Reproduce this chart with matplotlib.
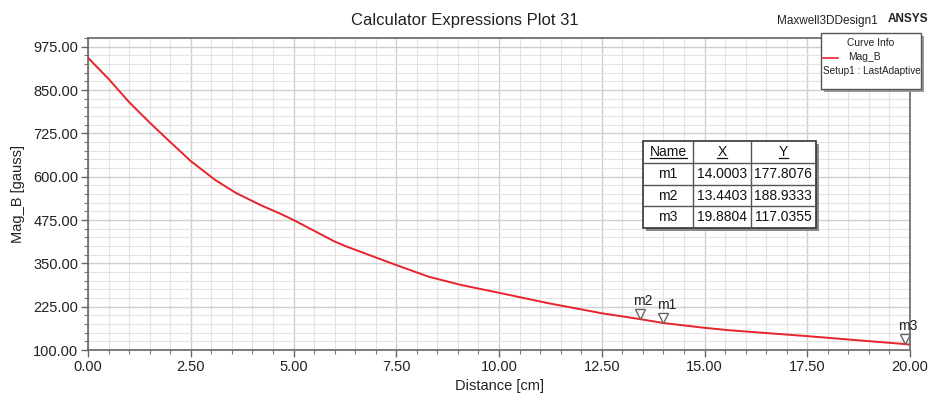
import numpy as np
import matplotlib
matplotlib.use("Agg")
import matplotlib.pyplot as plt
from matplotlib.patches import Rectangle
from matplotlib.lines import Line2D
from matplotlib.transforms import offset_copy

plt.rcParams['font.family'] = ['Liberation Sans', 'DejaVu Sans']

# ---- data ----
distance = [0.0, 0.5, 1.0, 1.5, 2.0, 2.5, 3.1, 3.6, 4.2, 4.7, 5.0, 6.0, 6.3, 7.5, 8.3,
            9.1, 10.0, 11.2, 12.5, 13.4403, 14.0003, 15.0, 15.6, 17.5, 19.8804, 20.0]
mag_b = [943, 882, 815, 756, 700, 645, 590, 553, 518, 492, 475, 413, 398, 345, 311,
         287, 265, 235, 206, 188.9333, 177.8076, 164, 157, 140, 117.0355, 115.5]

marker_names = ["m1", "m2", "m3"]
marker_x = [14.0003, 13.4403, 19.8804]
marker_y = [177.8076, 188.9333, 117.0355]

x_ticks = [0.0, 2.5, 5.0, 7.5, 10.0, 12.5, 15.0, 17.5, 20.0]
y_ticks = [100, 225, 350, 475, 600, 725, 850, 975]

W, H = 930, 398
fig = plt.figure(figsize=(W / 100, H / 100), dpi=100)
fig.patch.set_facecolor('white')


def fx(px):
    return px / W


def fy(py):
    return 1 - py / H


ax = fig.add_axes([fx(88), fy(350), (910 - 88) / W, (350 - 38) / H])
ax.plot(distance, mag_b, color='#e8232b', lw=1.4, zorder=3)
ax.set_xlim(0, 20)
ax.set_ylim(100, 1000)
ax.set_xticks(x_ticks)
ax.set_xticklabels([f"{v:.2f}" for v in x_ticks])
ax.set_yticks(y_ticks)
ax.set_yticklabels([f"{v:.2f}" for v in y_ticks])
ax.set_xticks(np.arange(0, 20.001, 0.5), minor=True)
ax.set_yticks(np.arange(100, 1000.1, 25), minor=True)
ax.grid(which='major', color='#cfcfcf', lw=1.0, zorder=0)
ax.grid(which='minor', color='#e3e3e3', lw=0.8, zorder=0)
ax.set_axisbelow(True)
ax.tick_params(which='major', direction='out', length=5, width=1, color='#666',
               labelsize=10.5, labelcolor='#222', pad=2)
ax.tick_params(which='minor', direction='out', length=3, width=0.8, color='#777')
for s in ax.spines.values():
    s.set_color('#666')
    s.set_linewidth(1.2)

ax.set_xlabel("Distance [cm]", fontsize=10.5, color='#222', labelpad=4)
ax.set_ylabel("Mag_B [gauss]", fontsize=10.5, color='#222', labelpad=6)

# markers
tri_tr = offset_copy(ax.transData, fig=fig, x=0, y=3.5, units='points')
for name, mx, my in zip(marker_names, marker_x, marker_y):
    ax.plot([mx], [my], marker='v', ms=7, mfc='white', mec='#666', mew=1.0,
            transform=tri_tr, zorder=4, clip_on=False)
    ax.annotate(name, (mx, my), xytext=(2, 8), textcoords='offset points',
                ha='center', va='bottom', fontsize=10, color='#222', zorder=5)

# title and header texts
fig.text(fx(465), fy(20), "Calculator Expressions Plot 31", ha='center', va='center',
         fontsize=12, color='#222')
fig.text(fx(777), fy(21), "Maxwell3DDesign1", ha='left', va='center', fontsize=8.5,
         color='#222')
fig.text(fx(888), fy(19), "ANSYS", ha='left', va='center', fontsize=8.5,
         fontweight='bold', color='#222')

# legend box (Curve Info)
lx0, ly0, lx1, ly1 = 821, 33, 921, 89
fig.patches.append(Rectangle((fx(lx0 + 3), fy(ly1 + 3)), (lx1 - lx0) / W, (ly1 - ly0) / H,
                             transform=fig.transFigure, facecolor='#9a9a9a',
                             edgecolor='none', zorder=9))
fig.patches.append(Rectangle((fx(lx0), fy(ly1)), (lx1 - lx0) / W, (ly1 - ly0) / H,
                             transform=fig.transFigure, facecolor='white',
                             edgecolor='#555', lw=1.0, zorder=10))
fig.text(fx(871), fy(43), "Curve Info", ha='center', va='center', fontsize=7.4,
         color='#222', zorder=11)
fig.lines.append(Line2D([fx(823), fx(838)], [fy(57.5), fy(57.5)],
                        transform=fig.transFigure, color='#e8232b', lw=1.2, zorder=11))
fig.text(fx(848), fy(57.5), "Mag_B", ha='left', va='center', fontsize=7.4,
         color='#222', zorder=11)
fig.text(fx(871.5), fy(71.5), "Setup1 : LastAdaptive", ha='center', va='center',
         fontsize=7.2, color='#222', zorder=11)

# marker table
tx = [643, 693.3, 750.7, 816]
ty = [141, 163.3, 184.8, 206.3, 228]
fig.patches.append(Rectangle((fx(tx[0] + 3), fy(ty[-1] + 3)), (tx[-1] - tx[0]) / W,
                             (ty[-1] - ty[0]) / H, transform=fig.transFigure,
                             facecolor='#8a8a8a', edgecolor='none', zorder=9))
fig.patches.append(Rectangle((fx(tx[0]), fy(ty[-1])), (tx[-1] - tx[0]) / W,
                             (ty[-1] - ty[0]) / H, transform=fig.transFigure,
                             facecolor='white', edgecolor='#333', lw=1.2, zorder=10))
for xv in tx[1:-1]:
    fig.lines.append(Line2D([fx(xv), fx(xv)], [fy(ty[0]), fy(ty[-1])],
                            transform=fig.transFigure, color='#555', lw=1.0, zorder=11))
for yv in ty[1:-1]:
    fig.lines.append(Line2D([fx(tx[0]), fx(tx[-1])], [fy(yv), fy(yv)],
                            transform=fig.transFigure, color='#555', lw=1.0, zorder=11))

headers = ["Name", "X", "Y"]
rows = [[n, f"{x:.4f}", f"{y:.4f}"] for n, x, y in zip(marker_names, marker_x, marker_y)]
header_texts = []
for c, h in enumerate(headers):
    cx = (tx[c] + tx[c + 1]) / 2
    cy = (ty[0] + ty[1]) / 2
    header_texts.append(fig.text(fx(cx), fy(cy), h, ha='center', va='center',
                                 fontsize=10, color='#111', zorder=12))
for r, row in enumerate(rows):
    for c, val in enumerate(row):
        cx = (tx[c] + tx[c + 1]) / 2
        cy = (ty[r + 1] + ty[r + 2]) / 2
        fig.text(fx(cx), fy(cy), val, ha='center', va='center', fontsize=10,
                 color='#111', zorder=12)

# underline headers
fig.canvas.draw()
renderer = fig.canvas.get_renderer()
inv = fig.transFigure.inverted()
for t in header_texts:
    bb = t.get_window_extent(renderer)
    (x0, y0), (x1, _) = inv.transform([(bb.x0, bb.y0), (bb.x1, bb.y1)])
    yline = y0 + 1.0 / H
    fig.lines.append(Line2D([x0, x1], [yline, yline], transform=fig.transFigure,
                            color='#111', lw=0.9, zorder=12))

fig.savefig("out.png", dpi=100, facecolor='white')
